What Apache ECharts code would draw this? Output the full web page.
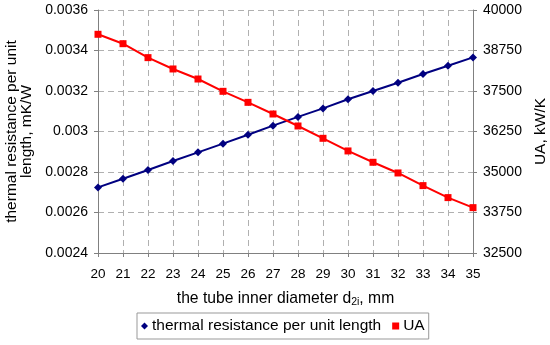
<!DOCTYPE html>
<html><head><meta charset="utf-8">
<script src="https://cdn.jsdelivr.net/npm/echarts@6/dist/echarts.min.js"></script>
<style>html,body{margin:0;padding:0;background:#fff}#c{width:550px;height:345px}</style>
</head><body><div id="c"></div>
<script>
const categories = ['20','21','22','23','24','25','26','27','28','29','30','31','32','33','34','35'];
const thermalResistance = [0.002724,0.002767,0.00281,0.002854,0.002897,0.00294,0.002984,0.003029,0.003072,0.003114,0.003159,0.0032,0.003241,0.003284,0.003325,0.003366];
const UA = [39250,38960,38530,38180,37870,37490,37150,36790,36420,36040,35650,35300,34970,34580,34210,33900];
const leftTicks = [0.0024,0.0026,0.0028,0.003,0.0032,0.0034,0.0036];
const rightTicks = [32500,33750,35000,36250,37500,38750,40000];

const font = 'Liberation Sans, Arial, sans-serif';
const axisCol = '#808080';
const chart = echarts.init(document.getElementById('c'));
chart.setOption({
  animation: false,
  grid: {left: 98, right: 77, top: 10, bottom: 92, containLabel: false, outerBoundsMode: 'none'},
  textStyle: {fontFamily: font},
  legend: {
    top: 313, left: 137,
    data: [{name: 'thermal resistance per unit length', icon: 'diamond'}, {name: 'UA', icon: 'rect'}],
    itemWidth: 7, itemHeight: 7, itemGap: 11,
    borderColor: '#999', borderWidth: 1, borderRadius: 0, padding: [5, 4],
    textStyle: {fontFamily: font, fontSize: 15.5, color: '#000', padding: [0, 0, 0, -1]}
  },
  xAxis: {
    type: 'category', data: categories, boundaryGap: false,
    name: 'the tube inner diameter d{sub|2i}, mm', nameLocation: 'middle', nameGap: 37,
    nameTextStyle: {fontFamily: font, fontSize: 15.7, color: '#000', rich: {sub: {fontSize: 10.5, verticalAlign: 'bottom', padding: [7,0,0,0], fontFamily: font, color:'#000'}}},
    axisLine: {lineStyle: {color: axisCol}},
    axisTick: {show: true, length: 4, lineStyle: {color: axisCol}},
    axisLabel: {fontFamily: font, fontSize: 13.5, color: '#000', margin: 14},
    splitLine: {show: true, lineStyle: {color: '#b0b0b0', type: [6, 4]}}
  },
  yAxis: [{
    type: 'value', min: leftTicks[0], max: leftTicks[leftTicks.length - 1], interval: 0.0002,
    name: 'thermal resistance per unit\nlength, mK/W', nameLocation: 'middle', nameGap: 64,
    nameTextStyle: {fontFamily: font, fontSize: 15.5, color: '#000', lineHeight: 15},
    axisLine: {show: true, lineStyle: {color: axisCol}},
    axisTick: {show: true, length: 4, lineStyle: {color: axisCol}},
    axisLabel: {fontFamily: font, fontSize: 14, color: '#000', margin: 10, formatter: v => String(+v.toFixed(4))},
    splitLine: {show: true, lineStyle: {color: '#b0b0b0', type: [6, 4]}}
  }, {
    type: 'value', min: rightTicks[0], max: rightTicks[rightTicks.length - 1], interval: 1250, position: 'right',
    name: 'UA, kW/K', nameLocation: 'middle', nameGap: 59,
    nameTextStyle: {fontFamily: font, fontSize: 15.5, color: '#000'},
    axisLine: {show: true, lineStyle: {color: axisCol}},
    axisTick: {show: true, length: 4, lineStyle: {color: axisCol}},
    axisLabel: {fontFamily: font, fontSize: 14, color: '#000', margin: 10, formatter: v => String(v)},
    splitLine: {show: false}
  }],
  series: [{
    name: 'thermal resistance per unit length', type: 'line', yAxisIndex: 0,
    data: thermalResistance, symbol: 'diamond', symbolSize: 8,
    lineStyle: {color: '#000080', width: 2}, itemStyle: {color: '#000080'}
  }, {
    name: 'UA', type: 'line', yAxisIndex: 1,
    data: UA, symbol: 'rect', symbolSize: 7,
    lineStyle: {color: '#ff0000', width: 2}, itemStyle: {color: '#ff0000'}
  }]
});
</script></body></html>
